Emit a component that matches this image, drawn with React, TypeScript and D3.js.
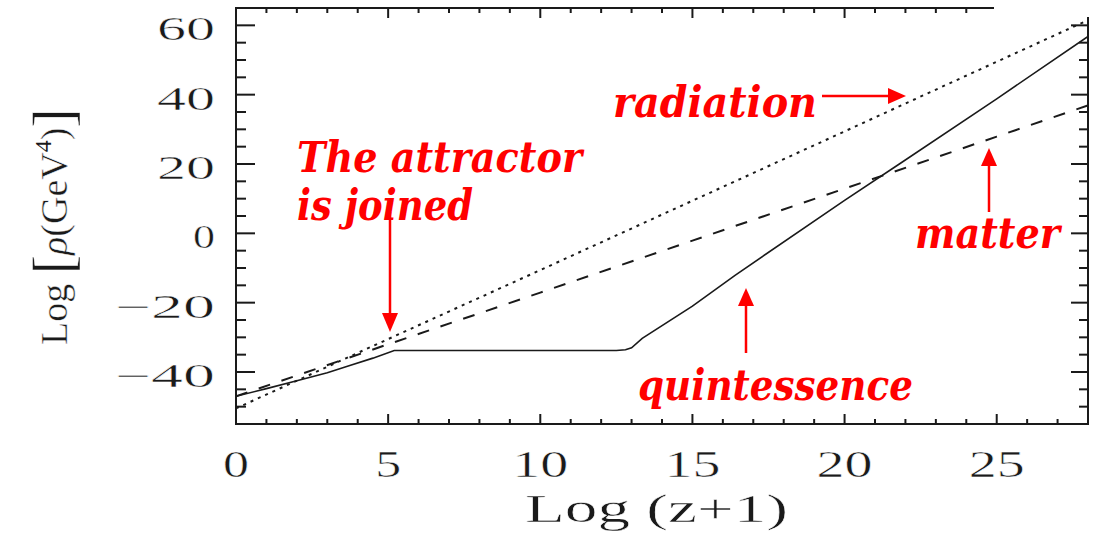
import React from 'react';
import * as d3 from 'd3';

const W = 1094;
const H = 533;

// axis domains and ticks
const xDomain: [number, number] = [0, 28];
const yDomain: [number, number] = [-55, 65];
const xMajorTicks = [0, 5, 10, 15, 20, 25];
const xLabels = ['0', '5', '10', '15', '20', '25'];
const yMajorTicks = [-40, -20, 0, 20, 40, 60];
const yLabels = ['\u221240', '\u221220', '0', '20', '40', '60'];

// series (Log(z+1), Log rho)
const radiationX = [0, 5, 10, 15, 20, 25, 28];
const radiationY = [-50.5, -30.5, -10.6, 9.4, 29.4, 49.5, 61.5];
const matterX = [0, 5, 10, 15, 20, 25, 28];
const matterY = [-47, -32, -17.1, -2.1, 12.9, 27.9, 36.9];
const quintX = [0, 1, 2, 3, 3.74, 4.5, 5.2, 8, 12.5, 12.8, 13.0, 13.35, 15, 16.4, 20, 21.8, 25, 28];
const quintY = [-47, -44.8, -42.5, -40.2, -38.1, -36, -33.8, -33.8, -33.8, -33.6, -33.0, -30.3, -21, -12.1, 9.5, 20, 38.8, 56.8];

const zip = (xs: number[], ys: number[]): [number, number][] => xs.map((v, i) => [v, ys[i]]);

export default function App() {
  const L = 236, R = 1088, T = 8, B = 424;
  const x = d3.scaleLinear().domain(xDomain).range([L, R]);
  const y = d3.scaleLinear().domain(yDomain).range([B, T]);
  const line = d3.line<[number, number]>().x(d => x(d[0])).y(d => y(d[1]));
  const xMinor = d3.range(0, 29, 1);
  const yMinor = d3.range(-55, 66, 5);
  const ink = '#1a1a1a';
  const red = '#ff0000';

  const xLabelW = (s: string) => (s.length === 1 ? 26 : 56);
  const yLabelW = (s: string) => (s.length === 1 ? 22 : s.length === 2 ? 58 : 100);

  const annFont = { fontFamily: 'DejaVu Serif', fontWeight: 'bold' as const, fontStyle: 'italic' as const, fontSize: 42, fill: red };

  return (
    <svg width={W} height={H} style={{ position: 'absolute', left: 0, top: 0, background: '#fff' }}>
      <defs>
        <clipPath id="plot">
          <rect x={L} y={T} width={R - L} height={B - T} />
        </clipPath>
      </defs>
      {/* frame */}
      <g stroke={ink} strokeWidth={2} fill="none">
        <line x1={L} y1={T} x2={994} y2={T} />
        <line x1={L} y1={T - 1} x2={L} y2={B + 1} />
        <line x1={L - 1} y1={B} x2={R + 1} y2={B} />
        <line x1={R} y1={17} x2={R} y2={B + 1} />
      </g>
      {/* ticks */}
      <g stroke={ink} strokeWidth={2}>
        {xMinor.map(v => {
          const major = v % 5 === 0;
          const len = major ? 10 : 5;
          const px = x(v);
          return (
            <g key={'xt' + v}>
              <line x1={px} y1={B} x2={px} y2={B - len} />
              {px <= 994 && <line x1={px} y1={T} x2={px} y2={T + len} />}
            </g>
          );
        })}
        {yMinor.map(v => {
          const major = v % 20 === 0;
          const len = major ? 19 : 10;
          const py = y(v);
          return (
            <g key={'yt' + v}>
              <line x1={L} y1={py} x2={L + len} y2={py} />
              {py >= 17 && <line x1={R} y1={py} x2={R - (major ? 17 : 9)} y2={py} />}
            </g>
          );
        })}
      </g>
      {/* tick labels and titles (thin white outline to lighten strokes) */}
      <g fontFamily="Liberation Serif" fill={ink} stroke="#fff" strokeWidth={0.45}>
        {xMajorTicks.map((v, i) => {
          const w = xLabelW(xLabels[i]);
          return (
            <text key={'xl' + v} x={x(v) - w / 2} y={477} fontSize={37} textLength={w} lengthAdjust="spacingAndGlyphs">
              {xLabels[i]}
            </text>
          );
        })}
        {yMajorTicks.map((v, i) => {
          const w = yLabelW(yLabels[i]);
          return (
            <text key={'yl' + v} x={215 - w} y={y(v) + 15} fontSize={33} textLength={w} lengthAdjust="spacingAndGlyphs">
              {yLabels[i]}
            </text>
          );
        })}
        <text x={525} y={522} fontSize={40} textLength={263} lengthAdjust="spacingAndGlyphs">Log  (z+1)</text>
        <text transform="translate(67,345) rotate(-90)" fontSize={38}>
          <tspan>Log </tspan>
          <tspan fontSize={58} dy={5}>[</tspan>
          <tspan fontStyle="italic" dy={-5}>ρ</tspan>
          <tspan>(GeV</tspan>
          <tspan fontSize={24} dy={-16} stroke="none">4</tspan>
          <tspan dy={16}>)</tspan>
          <tspan fontSize={58} dy={5}>]</tspan>
        </text>
      </g>
      {/* series */}
      <g clipPath="url(#plot)" fill="none" stroke={ink}>
        <path d={line(zip(radiationX, radiationY)) || ''} strokeWidth={2} strokeDasharray="3,5" />
        <path d={line(zip(matterX, matterY)) || ''} strokeWidth={2} strokeDasharray="12,12" />
        <path d={line(zip(quintX, quintY)) || ''} strokeWidth={1.6} />
      </g>
      {/* annotations */}
      <g {...annFont}>
        <text x={297} y={172} textLength={285} lengthAdjust="spacingAndGlyphs">The attractor</text>
        <text x={297} y={220} textLength={176} lengthAdjust="spacingAndGlyphs">is joined</text>
        <text x={613} y={117} textLength={204} lengthAdjust="spacingAndGlyphs">radiation</text>
        <text x={915} y={248} textLength={145} lengthAdjust="spacingAndGlyphs">matter</text>
        <text x={638} y={400} textLength={275} lengthAdjust="spacingAndGlyphs">quintessence</text>
      </g>
      <g stroke={red} strokeWidth={2.5} fill={red}>
        <line x1={390} y1={212} x2={390} y2={315} />
        <polygon points="382,313 398,313 390,332" stroke="none" />
        <line x1={822} y1={96} x2={890} y2={96} />
        <polygon points="888,88 888,104 906,96" stroke="none" />
        <line x1={989} y1={163} x2={989} y2={212} />
        <polygon points="981,166 997,166 989,148" stroke="none" />
        <line x1={746} y1={304} x2={746} y2={353} />
        <polygon points="738,306 754,306 746,288" stroke="none" />
      </g>
    </svg>
  );
}
